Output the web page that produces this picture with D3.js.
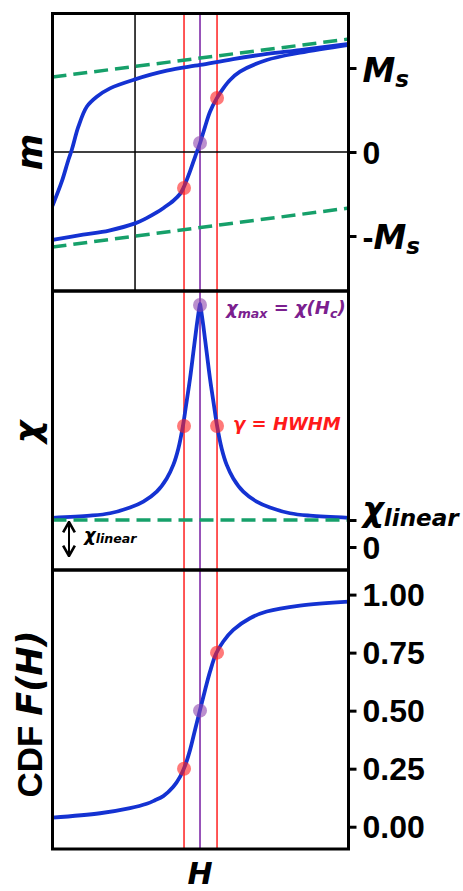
<!DOCTYPE html>
<html>
<head>
<meta charset="utf-8">
<script src="https://cdn.jsdelivr.net/npm/d3@7"></script>
<style>
  body { margin: 0; background: #fff; }
  svg { display: block; }
  .num { font-family: "Liberation Sans", Arial, sans-serif; font-weight: bold; }
  .math { font-family: "DejaVu Sans", sans-serif; font-weight: bold; font-style: italic; }
</style>
</head>
<body>
<svg id="chart" width="463" height="891"></svg>
<script>
// descending branch of the loop (H, m)
const descH = [-1.27, -1.128, -1.026, -0.974, -0.872, -0.743, -0.589, -0.385, 0, 0.488, 1.0, 1.508, 2.031, 2.538, 3.29];
const descM = [-0.64, -0.354, -0.095, 0.024, 0.301, 0.539, 0.658, 0.758, 0.865, 0.968, 1.036, 1.107, 1.167, 1.214, 1.288];
// ascending branch
const ascH = [-1.27, -0.8, -0.4, 0, 0.17, 0.334, 0.45, 0.589, 0.692, 0.743, 0.846, 0.923, 1.0, 1.077, 1.154, 1.257, 1.358, 1.462, 1.615, 2.026, 2.538, 3.29];
const ascM = [-1.045, -0.985, -0.935, -0.85, -0.79, -0.72, -0.66, -0.58, -0.5, -0.43, -0.23, -0.06, 0.104, 0.3, 0.48, 0.639, 0.758, 0.857, 0.956, 1.095, 1.182, 1.276];
// linear (saturation) lines
const satH = [-1.27, 3.29];
const satUpper = [0.893, 1.345];
const satLower = [-1.131, -0.667];
// susceptibility
const chiH = [-1.27, -0.692, -0.385, -0.077, 0.128, 0.334, 0.488, 0.589, 0.666, 0.734, 0.785, 0.846, 0.897, 0.949, 0.989, 1.0,
              1.011, 1.051, 1.103, 1.154, 1.215, 1.266, 1.334, 1.411, 1.512, 1.666, 1.872, 2.077, 2.385, 2.692, 3.29];
const chiV = [1.08, 1.16, 1.25, 1.46, 1.68, 2.05, 2.54, 3.04, 3.64, 4.44, 5.24, 6.23, 7.2, 8.19, 8.86, 9.0,
              8.86, 8.19, 7.2, 6.23, 5.24, 4.44, 3.64, 3.04, 2.54, 2.05, 1.68, 1.46, 1.25, 1.16, 1.08];
const chiLinear = 1;
// cumulative distribution
const cdfH = [-1.27, -0.538, -0.077, 0.18, 0.3, 0.435, 0.589, 0.692, 0.769, 0.846, 0.923, 1.0, 1.077, 1.154, 1.246, 1.358, 1.512, 1.769, 2.026, 2.538, 3.29];
const cdfV = [0.039, 0.058, 0.08, 0.099, 0.113, 0.132, 0.172, 0.215, 0.262, 0.33, 0.417, 0.503, 0.588, 0.668, 0.745, 0.798, 0.848, 0.898, 0.927, 0.953, 0.97];
// marker positions: Hc - γ, Hc, Hc + γ
const markH = [0.754, 1.0, 1.262];
const markM = [-0.429, 0.107, 0.643];
const markChi = [4.48, 8.96, 4.48];
const markF = [0.25, 0.5, 0.75];
const markColor = ["red", "purple", "red"];
// ticks
const mTicks = [1, 0, -1];
const chiTicks = [1, 0];
const cdfTicks = [0, 0.25, 0.5, 0.75, 1];

const svg = d3.select("#chart");
const left = 52.5, right = 348.5;
const blue = "#1432d2", green = "#16a06a", red = "#ff2d2d", purple = "#7f2aa8";

const x = d3.scaleLinear().domain([-1.27, 3.285]).range([left, right]);
const yM = d3.scaleLinear().domain([-1.655, 1.649]).range([291, 13.5]);
const yChi = d3.scaleLinear().domain([-0.852, 9.481]).range([570, 291]);
const yF = d3.scaleLinear().domain([-0.096, 1.106]).range([849, 570]);

const panels = [yM, yChi, yF];

// clip paths per panel
const defs = svg.append("defs");
panels.forEach((y, i) => {
  defs.append("clipPath").attr("id", "clip" + i)
    .append("rect")
    .attr("x", left).attr("y", y.range()[1])
    .attr("width", right - left).attr("height", y.range()[0] - y.range()[1]);
});
defs.append("marker")
  .attr("id", "head")
  .attr("viewBox", "0 0 10 10")
  .attr("refX", 9).attr("refY", 5)
  .attr("markerWidth", 13).attr("markerHeight", 15)
  .attr("markerUnits", "userSpaceOnUse")
  .attr("orient", "auto-start-reverse")
  .append("path")
  .attr("d", "M1 0.5 L9 5 L1 9.5")
  .attr("fill", "none").attr("stroke", "#000").attr("stroke-width", 2);

const zip = (a, b) => a.map((v, i) => [v, b[i]]);

const drawLine = (g, y, pts, color, width, dash) => {
  const line = d3.line().x(d => x(d[0])).y(d => y(d[1])).curve(d3.curveCatmullRom.alpha(0.5));
  const p = g.append("path").attr("d", line(pts))
    .attr("fill", "none").attr("stroke", color).attr("stroke-width", width);
  if (dash) p.attr("stroke-dasharray", dash);
  return p;
};

const plots = panels.map((y, i) => svg.append("g").attr("clip-path", `url(#clip${i})`));

// reference lines (red / purple) in every panel
panels.forEach((y, i) => {
  markH.forEach((h, j) => {
    plots[i].append("line")
      .attr("x1", x(h)).attr("x2", x(h))
      .attr("y1", y.range()[1]).attr("y2", y.range()[0])
      .attr("stroke", markColor[j] === "red" ? red : purple)
      .attr("stroke-width", 1.6);
  });
});

// ---- panel 1 : hysteresis loop
plots[0].append("line").attr("x1", x(0)).attr("x2", x(0))
  .attr("y1", yM.range()[1]).attr("y2", yM.range()[0])
  .attr("stroke", "#000").attr("stroke-width", 1.5);
plots[0].append("line").attr("x1", left).attr("x2", right)
  .attr("y1", yM(0)).attr("y2", yM(0))
  .attr("stroke", "#000").attr("stroke-width", 1.5);
drawLine(plots[0], yM, zip(descH, descM), blue, 3.8);
drawLine(plots[0], yM, zip(ascH, ascM), blue, 3.8);
drawLine(plots[0], yM, zip(satH, satUpper), green, 3.5, "14,7");
drawLine(plots[0], yM, zip(satH, satLower), green, 3.5, "14,7");

// ---- panel 2 : susceptibility
drawLine(plots[1], yChi, zip(chiH, chiV), blue, 3.8);
drawLine(plots[1], yChi, zip(satH, [chiLinear, chiLinear]), green, 3.5, "14,7");

// ---- panel 3 : CDF
drawLine(plots[2], yF, zip(cdfH, cdfV), blue, 3.8);

// markers
const markSets = [markM, markChi, markF];
panels.forEach((y, i) => {
  markH.forEach((h, j) => {
    plots[i].append("circle")
      .attr("cx", x(h)).attr("cy", y(markSets[i][j])).attr("r", 7)
      .attr("fill", markColor[j] === "red" ? "#ff2020" : "#8e44ad")
      .attr("fill-opacity", 0.6);
  });
});

// frames
panels.forEach(y => {
  svg.append("rect")
    .attr("x", left).attr("y", y.range()[1])
    .attr("width", right - left).attr("height", y.range()[0] - y.range()[1])
    .attr("fill", "none").attr("stroke", "#000").attr("stroke-width", 3);
});

// math text helper: parts = [[text, "sub"|"main"|"up"], ...]
const mathText = (sel, parts, size, subShift) => {
  sel.text(null);
  let shifted = false;
  parts.forEach(([t, kind]) => {
    const ts = sel.append("tspan").text(t);
    if (kind === "up") ts.attr("class", "num").attr("font-style", "normal");
    else ts.attr("class", "math");
    if (kind === "sub") {
      ts.attr("font-size", size * 0.7);
      if (!shifted) { ts.attr("dy", subShift); shifted = true; }
    } else {
      ts.attr("font-size", size);
      if (shifted) { ts.attr("dy", -subShift); shifted = false; }
    }
  });
};

// right axes
const zeroOnly = d => (d === 0 ? "0" : "");
const axisM = svg.append("g").attr("transform", `translate(${right},0)`)
  .call(d3.axisRight(yM).tickValues(mTicks).tickSize(8).tickPadding(6).tickFormat(zeroOnly));
const axisChi = svg.append("g").attr("transform", `translate(${right},0)`)
  .call(d3.axisRight(yChi).tickValues(chiTicks).tickSize(8).tickPadding(6).tickFormat(zeroOnly));
const axisF = svg.append("g").attr("transform", `translate(${right},0)`)
  .call(d3.axisRight(yF).tickValues(cdfTicks).tickSize(8).tickPadding(6).tickFormat(d3.format(".2f")));

[axisM, axisChi, axisF].forEach(a => {
  a.select(".domain").remove();
  a.selectAll(".tick line").attr("stroke", "#000").attr("stroke-width", 3);
  a.selectAll(".tick text").attr("class", "num").attr("font-size", 32).attr("fill", "#000").attr("dy", "0.35em");
});

axisM.selectAll(".tick text").each(function (d) {
  const t = d3.select(this);
  if (d === 1) { t.attr("dy", 13); mathText(t, [["M", "main"], ["s", "sub"]], 33, 5); }
  if (d === -1) { t.attr("dy", 13); mathText(t, [["-", "up"], ["M", "main"], ["s", "sub"]], 33, 5); }
});
axisChi.selectAll(".tick text").each(function (d) {
  const t = d3.select(this);
  if (d === 1) { t.attr("dy", 1); mathText(t, [["χ", "main"], ["linear", "sub"]], 33, 5); }
});

// annotations
svg.append("text").attr("x", 226).attr("y", 314)
  .attr("fill", "#7b1f8f").attr("font-size", 18)
  .call(t => mathText(t, [["χ", "main"], ["max", "sub"], [" = χ(", "main"], ["H", "main"], ["c", "sub"], [")", "main"]], 18, 4));
svg.append("text").attr("x", 233).attr("y", 430)
  .attr("fill", "#ff1a1a").attr("font-size", 18)
  .call(t => mathText(t, [["γ = HWHM", "main"]], 18, 0));

// χ_linear double arrow
svg.append("line")
  .attr("x1", 69).attr("x2", 69).attr("y1", yChi(chiLinear) + 2).attr("y2", yChi(0) + 9)
  .attr("stroke", "#000").attr("stroke-width", 2)
  .attr("marker-start", "url(#head)").attr("marker-end", "url(#head)");
svg.append("text").attr("x", 84).attr("y", 541)
  .attr("fill", "#000")
  .call(t => mathText(t, [["χ", "main"], ["linear", "sub"]], 18, 2));

// axis labels
svg.append("text").attr("class", "math").attr("font-size", 35)
  .attr("text-anchor", "middle")
  .attr("transform", `translate(42,${yM(0)}) rotate(-90)`).text("m");
svg.append("text").attr("class", "math").attr("font-size", 35)
  .attr("text-anchor", "middle")
  .attr("transform", `translate(40,432) rotate(-90)`).text("χ");
const cdfLabel = svg.append("text").attr("font-size", 35)
  .attr("text-anchor", "middle")
  .attr("transform", `translate(42,714) rotate(-90)`);
cdfLabel.append("tspan").attr("class", "num").text("CDF ");
cdfLabel.append("tspan").attr("class", "math").text("F");
cdfLabel.append("tspan").attr("class", "math").attr("font-style", "normal").text("(");
cdfLabel.append("tspan").attr("class", "math").text("H");
cdfLabel.append("tspan").attr("class", "math").attr("font-style", "normal").text(")");
svg.append("text").attr("class", "math").attr("font-size", 30)
  .attr("text-anchor", "middle")
  .attr("x", x(1)).attr("y", 884).text("H");
</script>
</body>
</html>
